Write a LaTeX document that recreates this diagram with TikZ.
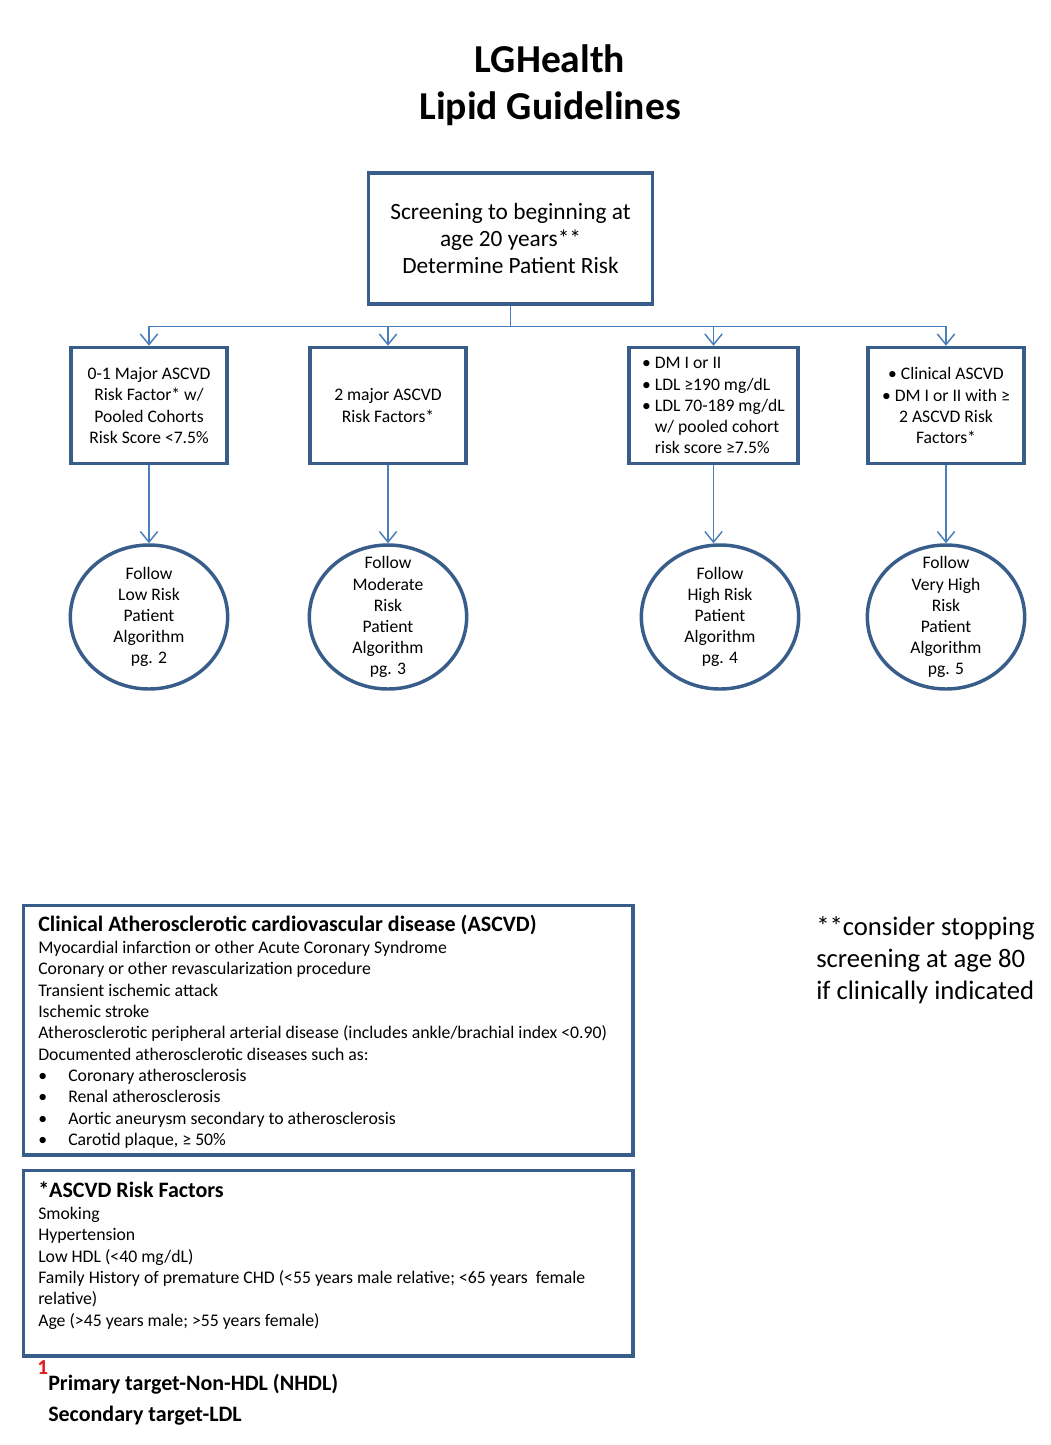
\documentclass[tikz,border=0pt]{standalone}
\usepackage{fontspec}
\setmainfont{Carlito}
\usetikzlibrary{arrows.meta,shapes.geometric}
\definecolor{boxblue}{HTML}{385D8A}
\definecolor{linkblue}{HTML}{4A7EBB}
\definecolor{fnred}{HTML}{E31B1B}
\begin{document}
\begin{tikzpicture}[x=0.75pt,y=-0.75pt,
  box/.style={draw=boxblue, line width=2.6pt, fill=white, inner sep=2pt},
  rbox/.style={box, minimum width=117pt, minimum height=87pt, align=center, font=\fontsize{13.2}{15.8}\selectfont},
  oval/.style={draw=boxblue, line width=2.6pt, fill=white, ellipse, inner sep=0pt, minimum width=118pt, minimum height=108pt},
  ovaltext/.style={align=center, inner sep=0pt, font=\fontsize{13.2}{15.8}\selectfont},
  link/.style={draw=linkblue, line width=1.1pt},
  arr/.style={link, -{Straight Barb[length=8pt,width=13pt,line width=1.1pt]}},
  txt/.style={anchor=base west, inner sep=0pt, font=\fontsize{13.3}{15}\selectfont},
  hd/.style={anchor=base west, inner sep=0pt, font=\fontsize{16.5}{18}\selectfont\bfseries}
]
\useasboundingbox (0,0) rectangle (1050,1445);
\fill[white] (0,0) rectangle (1050,1445);

% title
\node[font=\fontsize{29.7}{35.3}\selectfont\bfseries, align=center] (title) at (550,85) {LGHealth\\Lipid Guidelines};

% top box
\node[box, minimum width=213pt, minimum height=98pt, align=center, font=\fontsize{17.5}{20.6}\selectfont] (top) at (510.5,238.5) {Screening to beginning at\\age 20 years**\\Determine Patient Risk};

% risk boxes
\node[rbox] (b1) at (149,405.5) {0-1 Major ASCVD\\Risk Factor* w/\\Pooled Cohorts\\Risk Score <7.5\%};
\node[rbox] (b2) at (388,405.5) {2 major ASCVD\\Risk Factors*};
\node[rbox, minimum width=127pt, align=left] (b3) at (713.5,405.5) {• DM I or II\\• LDL ≥190 mg/dL\\• LDL 70-189 mg/dL\\\hphantom{• }w/ pooled cohort\\\hphantom{• }risk score ≥7.5\%};
\node[rbox] (b4) at (946,405.5) {• Clinical ASCVD\\• DM I or II with ≥\\2 ASCVD Risk\\Factors*};

% ovals
\node[oval] (e1) at (149,617) {};
\node[oval] (e2) at (388,617) {};
\node[oval] (e3) at (720,617) {};
\node[oval] (e4) at (946,617) {};
\node[ovaltext] (t1) at (e1) {Follow\\Low Risk\\Patient\\Algorithm\\pg. 2};
\node[ovaltext] (t2) at (388,617) {Follow\\Moderate\\Risk\\Patient\\Algorithm\\pg. 3};
\node[ovaltext] (t3) at (e3) {Follow\\High Risk\\Patient\\Algorithm\\pg. 4};
\node[ovaltext] (t4) at (946,617) {Follow\\Very High\\Risk\\Patient\\Algorithm\\pg. 5};

% connectors
\path (top.south) ++(0,21) coordinate (split);
\draw[link] (top.south) -- (split);
\draw[arr] (split) -| (b1.north);
\draw[arr] (split) -| (b2.north);
\draw[arr] (split) -| (b3.north);
\draw[arr] (split) -| (b4.north);
\draw[arr] (b1.south) -- (e1.north);
\draw[arr] (b2.south) -- (e2.north);
\draw[arr] (b3.south) -- (e3.north -| b3.south);
\draw[arr] (b4.south) -- (e4.north);

% bottom box 1
\node[box, minimum width=457pt, minimum height=187pt, anchor=north west, inner sep=0pt] (cbox) at (22,904) {};
\node[hd] (ch) at (38,931) {Clinical Atherosclerotic cardiovascular disease (ASCVD)};
\foreach \yy/\tt [count=\i] in {953/{Myocardial infarction or other Acute Coronary Syndrome},
  974.5/{Coronary or other revascularization procedure},
  996/{Transient ischemic attack},
  1017/{Ischemic stroke},
  1038.5/{Atherosclerotic peripheral arterial disease (includes ankle/brachial index <0.90)},
  1060/{Documented atherosclerotic diseases such as:}}
  \node[txt] (cl\i) at (38,\yy) {\tt};
\foreach \yy/\tt [count=\i] in {1081/{Coronary atherosclerosis},
  1102.5/{Renal atherosclerosis},
  1124/{Aortic aneurysm secondary to atherosclerosis},
  1145.5/{Carotid plaque, ≥ 50\%}}
  {\node[txt] (cb\i) at (38,\yy) {•};
   \node[txt] (ct\i) at (68,\yy) {\tt};}

% bottom box 2
\node[box, minimum width=457pt, minimum height=139pt, anchor=north west, inner sep=0pt] (rbox2) at (22,1169) {};
\node[hd] (rh) at (38,1197) {*ASCVD Risk Factors};
\foreach \yy/\tt [count=\i] in {1219.5/{Smoking},
  1240.5/{Hypertension},
  1262/{Low HDL (<40 mg/dL)},
  1283.5/{Family History of premature CHD (<55 years male relative; <65 years\ \ female},
  1304.5/{relative)},
  1326/{Age (>45 years male; >55 years female)}}
  \node[txt] (rl\i) at (38,\yy) {\tt};

% side note
\node[anchor=west, inner sep=0pt, align=left, font=\fontsize{20}{24}\selectfont] (note) at (816,960) {**consider stopping\\screening at age 80\\if clinically indicated};

% footnote
\node[anchor=base west, inner sep=0pt, text=fnred, font=\fontsize{16}{18}\selectfont\bfseries] (fn1) at (37,1374) {1};
\node[anchor=base west, inner sep=0pt, font=\fontsize{16.5}{18}\selectfont\bfseries] (fn2) at (48,1390) {Primary target-Non-HDL (NHDL)};
\node[anchor=base west, inner sep=0pt, font=\fontsize{16.5}{18}\selectfont\bfseries] (fn3) at (48,1421) {Secondary target-LDL};
\end{tikzpicture}
\end{document}
